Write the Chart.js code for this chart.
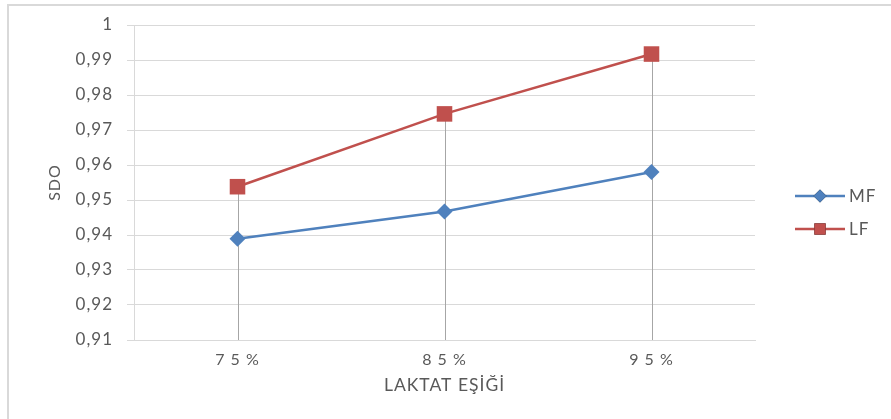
<!DOCTYPE html>
<html>
<head>
<meta charset="utf-8">
<title>SDO – Laktat Eşiği</title>
<script src="https://cdn.jsdelivr.net/npm/chart.js@4.4.1/dist/chart.umd.min.js"></script>
<style>
  html, body { margin: 0; padding: 0; background: #ffffff; }
  #wrap { position: relative; width: 891px; height: 419px; }
</style>
</head>
<body>
<div id="wrap"><canvas id="chart" width="891" height="419"></canvas></div>
<script>
// Threshold categories and SDO values per method
const categories = ['7 5 %', '8 5 %', '9 5 %'];
const mfValues = [0.9389, 0.9467, 0.9580];
const lfValues = [0.9538, 0.9746, 0.9917];
const yTickValues = [0.91, 0.92, 0.93, 0.94, 0.95, 0.96, 0.97, 0.98, 0.99, 1];
const seriesNames = ['MF', 'LF'];

const TEXT = '#595959';
const GRID = '#d9d9d9';
const BLUE = '#4f81bd';
const RED = '#c0504d';
const FONT = 'Lato';
const SPACING = '1px';

const fmt = v => String(Number(v.toFixed(2))).replace('.', ',');

// Light frame along the top and left edge of the page area
const framePlugin = {
  id: 'frame',
  beforeDraw(chart) {
    const ctx = chart.ctx;
    ctx.save();
    ctx.fillStyle = '#d9d9d9';
    ctx.fillRect(7, 4, 884, 2);
    ctx.fillRect(7, 4, 2, 415);
    ctx.restore();
  }
};

// Vertical drop lines from the highest point of each category down to the axis
const dropLinePlugin = {
  id: 'dropLines',
  beforeDatasetsDraw(chart) {
    const ctx = chart.ctx;
    const bottom = chart.chartArea.bottom;
    const metas = chart.getSortedVisibleDatasetMetas();
    if (!metas.length) return;
    ctx.save();
    ctx.strokeStyle = '#a6a6a6';
    ctx.lineWidth = 1;
    metas[0].data.forEach((pt, i) => {
      let top = Infinity;
      metas.forEach(m => { if (m.data[i]) top = Math.min(top, m.data[i].y); });
      const x = Math.round(pt.x) + 0.5;
      ctx.beginPath();
      ctx.moveTo(x, top);
      ctx.lineTo(x, bottom);
      ctx.stroke();
    });
    ctx.restore();
  }
};

// Legend on the right: line sample with the series marker, then the name
const legendPlugin = {
  id: 'sideLegend',
  afterDraw(chart) {
    const ctx = chart.ctx;
    const x0 = 795, x1 = 845, tx = 849;
    const rows = [196, 229];
    chart.data.datasets.forEach((ds, i) => {
      const y = rows[i];
      ctx.save();
      ctx.strokeStyle = ds.borderColor;
      ctx.lineWidth = 2.5;
      ctx.beginPath();
      ctx.moveTo(x0, y);
      ctx.lineTo(x1, y);
      ctx.stroke();
      Chart.helpers.drawPoint(ctx, {
        pointStyle: ds.pointStyle,
        radius: ds.pointStyle === 'rect' ? 8 : 6.5,
        borderWidth: 0,
        rotation: 0
      }, (x0 + x1) / 2, y);
      ctx.fillStyle = ds.pointBackgroundColor;
      ctx.fill();
      ctx.fillStyle = TEXT;
      ctx.font = '17px ' + FONT;
      ctx.textBaseline = 'middle';
      ctx.textAlign = 'left';
      ctx.fillText(ds.label, tx, y + 1);
      ctx.restore();
    });
  }
};

// Slightly open letter spacing for all chart text (canvas resets drop it, so reapply)
const setSpacing = chart => {
  if ('letterSpacing' in chart.ctx) chart.ctx.letterSpacing = SPACING;
};
const letterSpacingPlugin = {
  id: 'spacing',
  beforeUpdate: setSpacing,
  beforeLayout: setSpacing,
  beforeDraw: setSpacing
};

new Chart(document.getElementById('chart'), {
  type: 'line',
  data: {
    labels: categories,
    datasets: [
      {
        label: seriesNames[0],
        data: mfValues,
        borderColor: BLUE,
        backgroundColor: BLUE,
        pointBackgroundColor: BLUE,
        pointBorderColor: BLUE,
        pointStyle: 'rectRot',
        pointRadius: 8,
        pointBorderWidth: 0,
        borderWidth: 2.5,
        tension: 0
      },
      {
        label: seriesNames[1],
        data: lfValues,
        borderColor: RED,
        backgroundColor: RED,
        pointBackgroundColor: RED,
        pointBorderColor: RED,
        pointStyle: 'rect',
        pointRadius: 11,
        pointBorderWidth: 0,
        borderWidth: 2.5,
        tension: 0
      }
    ]
  },
  options: {
    responsive: false,
    animation: false,
    devicePixelRatio: 1,
    layout: { padding: { left: 40, top: 25, right: 136, bottom: 0 } },
    plugins: {
      legend: { display: false },
      tooltip: { enabled: false }
    },
    scales: {
      x: {
        offset: true,
        grid: { display: false, drawTicks: false },
        border: { display: true, color: GRID, width: 1 },
        ticks: { color: TEXT, font: { family: FONT, size: 16 }, padding: 10 },
        title: {
          display: true,
          text: 'LAKTAT EŞİĞİ',
          color: TEXT,
          font: { family: FONT, size: 17.5 },
          padding: { top: 0, bottom: 23 }
        },
        afterFit(scale) { scale.height = 79; }
      },
      y: {
        min: 0.91,
        max: 1,
        afterBuildTicks(scale) { scale.ticks = yTickValues.map(v => ({ value: v })); },
        grid: { color: GRID, lineWidth: 1, tickLength: 7, drawTicks: true },
        border: { display: true, color: GRID, width: 1 },
        ticks: {
          color: TEXT,
          font: { family: FONT, size: 17 },
          padding: 14,
          callback: v => fmt(v)
        },
        title: {
          display: true,
          text: 'SDO',
          color: TEXT,
          font: { family: FONT, size: 16 },
          padding: { top: 5, bottom: 0 }
        },
        afterFit(scale) { scale.width = 94; }
      }
    }
  },
  plugins: [letterSpacingPlugin, framePlugin, dropLinePlugin, legendPlugin]
});
</script>
</body>
</html>
